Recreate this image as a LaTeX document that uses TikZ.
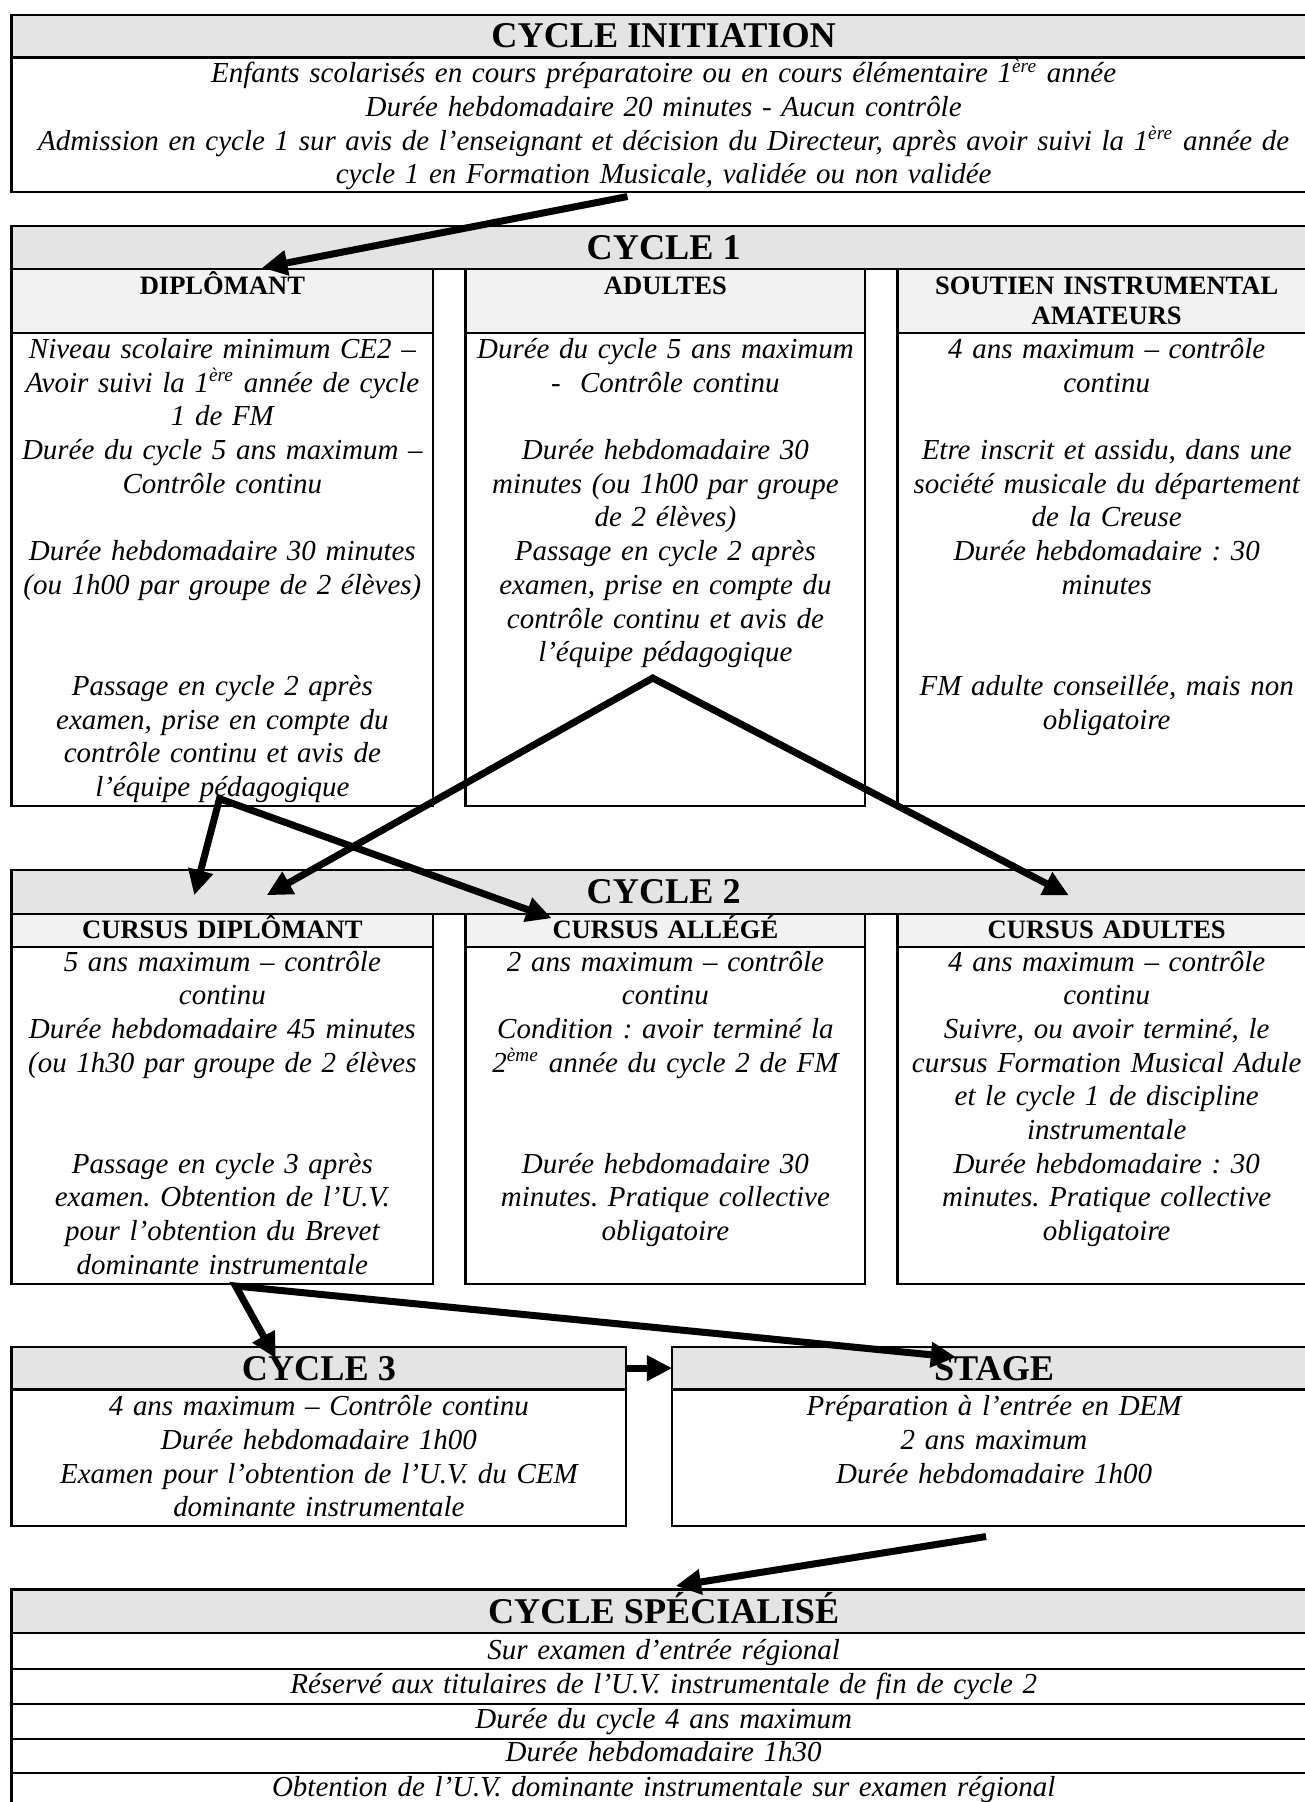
\documentclass[tikz,border=0pt]{standalone}
\usepackage{fontspec}
\setmainfont{Liberation Serif}
\usetikzlibrary{fit,arrows.meta}
\definecolor{hdrgray}{HTML}{E4E4E4}
\definecolor{subgray}{HTML}{F2F2F2}
\frenchspacing
\begin{document}
\begin{tikzpicture}[x=0.476pt,y=-0.476pt,
  box/.style={draw, line width=0.9pt, inner sep=0pt, outer sep=0pt},
  hdr/.style={box, fill=hdrgray},
  sub/.style={box, fill=subgray},
  body/.style={box, fill=white},
  title/.style={inner sep=0pt, font=\fontsize{15}{18}\selectfont\bfseries, anchor=base},
  subt/.style={inner sep=0pt, font=\fontsize{11}{12.4}\selectfont\bfseries, anchor=base, align=center, text width=220pt},
  txt/.style={inner sep=0pt, font=\fontsize{12}{13.95}\selectfont\itshape, anchor=base, align=center, text width=#1},
  txt/.default=240pt,
  arr/.style={line width=2.9pt, line join=miter, -{Triangle[length=10.5pt,width=10pt]}},
  varr/.style={line width=2.9pt, line join=miter, {Triangle[length=10.5pt,width=10pt]}-{Triangle[length=10.5pt,width=10pt]}},
]
\useasboundingbox (0,0) rectangle (1135,1568);

% ---------------- CYCLE INITIATION
\node[hdr, fit={(10,13) (1145,50)}] (initH) {};
\node[body, fit={(10,50) (1145,167)}] (initB) {};
\node[title] (initT) at (577.5,41.5) {CYCLE INITIATION};
\node[txt=560pt] (initX) at (577.5,72) {Enfants scolarisés en cours préparatoire ou en cours élémentaire 1\textsuperscript{ère} année\\
Durée hebdomadaire 20 minutes - Aucun contrôle\\
Admission en cycle 1 sur avis de l’enseignant et décision du Directeur, après avoir suivi la 1\textsuperscript{ère} année de\\
cycle 1 en Formation Musicale, validée ou non validée};

% ---------------- CYCLE 1
\node[hdr, fit={(10,197) (1145,234)}] (c1H) {};
\node[title] (c1T) at (577.5,226) {CYCLE 1};
\node[sub, fit={(10,234) (377,290)}] (c1aS) {};
\node[sub, fit={(405,234) (753,290)}] (c1bS) {};
\node[sub, fit={(781,234) (1145,290)}] (c1cS) {};
\node[body, fit={(10,290) (377,701)}] (c1aB) {};
\node[body, fit={(405,290) (753,701)}] (c1bB) {};
\node[body, fit={(781,290) (1145,701)}] (c1cB) {};
\node[subt] (c1aT) at (193.5,256.6) {DIPLÔMANT};
\node[subt] (c1bT) at (579,256.6) {ADULTES};
\node[subt] (c1cT) at (963,256.6) {SOUTIEN INSTRUMENTAL\\AMATEURS};
\node[txt] (c1aX) at (193.5,312) {Niveau scolaire minimum CE2 –\\
Avoir suivi la 1\textsuperscript{ère} année de cycle\\
1 de FM\\
Durée du cycle 5 ans maximum –\\
Contrôle continu\\
~\\
Durée hebdomadaire 30 minutes\\
(ou 1h00 par groupe de 2 élèves)\\
~\\
~\\
Passage en cycle 2 après\\
examen, prise en compte du\\
contrôle continu et avis de\\
l’équipe pédagogique};
\node[txt] (c1bX) at (579,312) {Durée du cycle 5 ans maximum\\
-\ \ Contrôle continu\\
~\\
Durée hebdomadaire 30\\
minutes (ou 1h00 par groupe\\
de 2 élèves)\\
Passage en cycle 2 après\\
examen, prise en compte du\\
contrôle continu et avis de\\
l’équipe pédagogique};
\node[txt] (c1cX) at (963,312) {4 ans maximum – contrôle\\
continu\\
~\\
Etre inscrit et assidu, dans une\\
société musicale du département\\
de la Creuse\\
Durée hebdomadaire : 30\\
minutes\\
~\\
~\\
FM adulte conseillée, mais non\\
obligatoire};

% ---------------- CYCLE 2
\node[hdr, fit={(10,757) (1145,795)}] (c2H) {};
\node[title] (c2T) at (577.5,786.5) {CYCLE 2};
\node[sub, fit={(10,795) (377,824)}] (c2aS) {};
\node[sub, fit={(405,795) (753,824)}] (c2bS) {};
\node[sub, fit={(781,795) (1145,824)}] (c2cS) {};
\node[body, fit={(10,824) (377,1117)}] (c2aB) {};
\node[body, fit={(405,824) (753,1117)}] (c2bB) {};
\node[body, fit={(781,824) (1145,1117)}] (c2cB) {};
\node[subt] (c2aT) at (193.5,816.6) {CURSUS DIPLÔMANT};
\node[subt] (c2bT) at (579,816.6) {CURSUS ALLÉGÉ};
\node[subt] (c2cT) at (963,816.6) {CURSUS ADULTES};
\node[txt] (c2aX) at (193.5,845) {5 ans maximum – contrôle\\
continu\\
Durée hebdomadaire 45 minutes\\
(ou 1h30 par groupe de 2 élèves\\
~\\
~\\
Passage en cycle 3 après\\
examen. Obtention de l’U.V.\\
pour l’obtention du Brevet\\
dominante instrumentale};
\node[txt] (c2bX) at (579,845) {2 ans maximum – contrôle\\
continu\\
Condition : avoir terminé la\\
2\textsuperscript{ème} année du cycle 2 de FM\\
~\\
~\\
Durée hebdomadaire 30\\
minutes. Pratique collective\\
obligatoire};
\node[txt] (c2cX) at (963,845) {4 ans maximum – contrôle\\
continu\\
Suivre, ou avoir terminé, le\\
cursus Formation Musical Adule\\
et le cycle 1 de discipline\\
instrumentale\\
Durée hebdomadaire : 30\\
minutes. Pratique collective\\
obligatoire};

% ---------------- CYCLE 3 and STAGE
\node[hdr, fit={(10,1172) (545,1209)}] (c3H) {};
\node[body, fit={(10,1209) (545,1328)}] (c3B) {};
\node[title] (c3T) at (277.5,1201) {CYCLE 3};
\node[txt] (c3X) at (277.5,1232) {4 ans maximum – Contrôle continu\\
Durée hebdomadaire 1h00\\
Examen pour l’obtention de l’U.V. du CEM\\
dominante instrumentale};
\node[hdr, fit={(585,1172) (1145,1209)}] (stH) {};
\node[body, fit={(585,1209) (1145,1328)}] (stB) {};
\node[title] (stT) at (865,1201) {STAGE};
\node[txt] (stX) at (865,1232) {Préparation à l’entrée en DEM\\
2 ans maximum\\
Durée hebdomadaire 1h00};

% ---------------- CYCLE SPECIALISE
\node[hdr, fit={(10,1383) (1145,1421)}] (spH) {};
\node[title] (spT) at (577.5,1413) {CYCLE SPÉCIALISÉ};
\node[body, fit={(10,1421) (1145,1452)}] (spR1) {};
\node[body, fit={(10,1452) (1145,1483)}] (spR2) {};
\node[body, fit={(10,1483) (1145,1513)}] (spR3) {};
\node[body, fit={(10,1513) (1145,1543)}] (spR4) {};
\node[body, fit={(10,1543) (1145,1590)}] (spR5) {};
\node[txt=560pt] (spX1) at (577.5,1444) {Sur examen d’entrée régional};
\node[txt=560pt] (spX2) at (577.5,1474) {Réservé aux titulaires de l’U.V. instrumentale de fin de cycle 2};
\node[txt=560pt] (spX3) at (577.5,1504) {Durée du cycle 4 ans maximum};
\node[txt=560pt] (spX4) at (577.5,1533) {Durée hebdomadaire 1h30};
\node[txt=560pt] (spX5) at (577.5,1563) {Obtention de l’U.V. dominante instrumentale sur examen régional};

% ---------------- connectors
\coordinate (a1s) at (546,171);
\coordinate (a1e) at (228,233);
\draw[arr] (a1s) -- (a1e);

\coordinate (v1o) at (191,695);
\coordinate (v1a) at (169,779);
\coordinate (v1b) at (480,799);
\draw[varr] (v1a) -- (v1o) -- (v1b);

\coordinate (v2o) at (568,590);
\coordinate (v2a) at (232,779);
\coordinate (v2b) at (930,779);
\draw[varr] (v2a) -- (v2o) -- (v2b);

\coordinate (v3o) at (205,1119);
\coordinate (v3a) at (240,1182);
\coordinate (v3b) at (832,1181);
\draw[varr] (v3a) -- (v3o) -- (v3b);

\draw[arr] (c3H.east) -- (stH.west);

\coordinate (a5s) at (858,1337);
\coordinate (a5e) at (588,1380);
\draw[arr] (a5s) -- (a5e);
\end{tikzpicture}
\end{document}
